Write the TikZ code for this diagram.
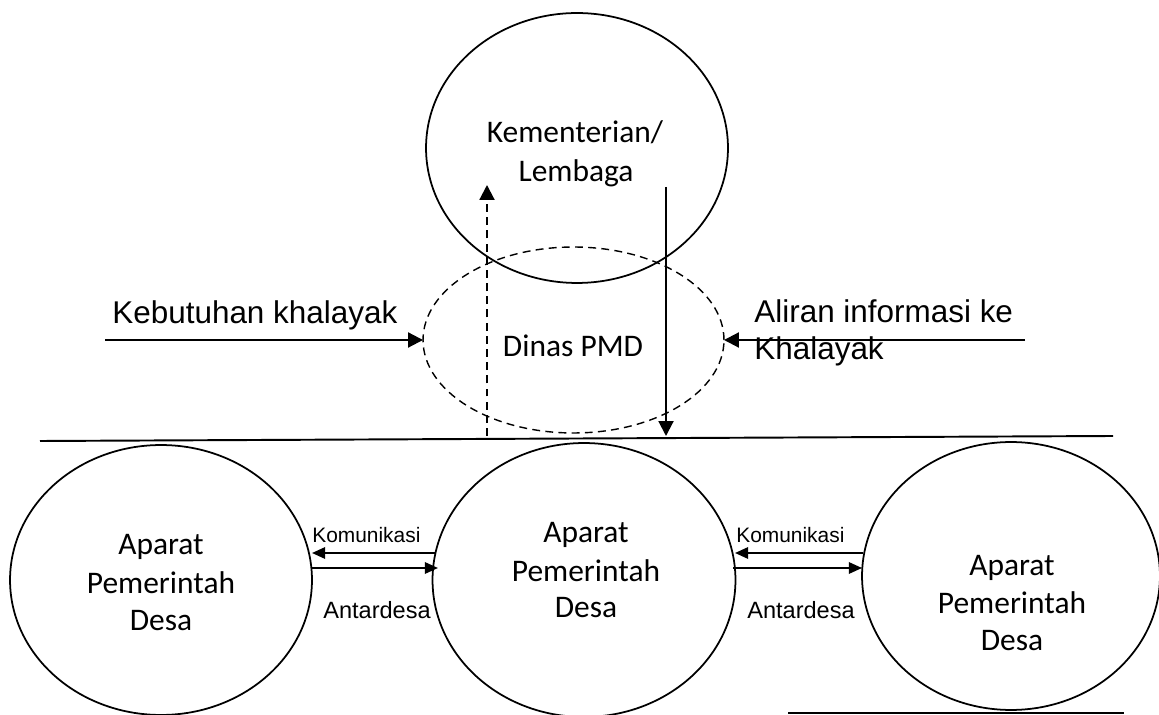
\documentclass[tikz,border=0pt]{standalone}
\usepackage{fontspec}
\newfontfamily\calib{Carlito}
\newfontfamily\arialf{Liberation Sans}
\usetikzlibrary{shapes.geometric,arrows.meta}

\begin{document}
\begin{tikzpicture}[x=0.02cm, y=-0.02cm,
  oval/.style={draw, ellipse, line width=1pt, inner sep=0pt, outer sep=0pt},
  dashoval/.style={oval, line width=0.8pt, dash pattern=on 4.5pt off 3pt},
  carl/.style={font=\calib\fontsize{17.9}{21}\selectfont, inner sep=0pt, anchor=base},
  arl/.style={font=\arialf\fontsize{17.9}{21}\selectfont, inner sep=0pt, anchor=base west},
  kom/.style={font=\arialf\fontsize{11.9}{14}\selectfont, inner sep=0pt, anchor=base west},
  antar/.style={font=\arialf\fontsize{13.4}{16}\selectfont, inner sep=0pt, anchor=base west},
  bigarrow/.style={line width=1.2pt, -{Triangle[length=8.5pt,width=8.5pt]}},
  smallarrow/.style={line width=1.2pt, -{Triangle[length=7.5pt,width=6.5pt]}},
  rule/.style={line width=1.1pt}]
\useasboundingbox (0,0) rectangle (1159,715);

% ovals
\node[oval, minimum width=6.04cm, minimum height=5.40cm] (kl) at (577,148) {};
\node[dashoval, minimum width=6.02cm, minimum height=3.72cm] (dinas) at (573.5,340) {};
\node[oval, minimum width=6.04cm, minimum height=5.40cm] (desa1) at (161,580) {};
\node[oval, minimum width=6.06cm, minimum height=5.48cm] (desa2) at (584,580) {};
\node[oval, minimum width=5.96cm, minimum height=5.36cm] (desa3) at (1011,576) {};

% texts in the ovals
\node[carl] (klA) at (575,143) {Kementerian/};
\node[carl] (klB) at (576,182) {Lembaga};
\node[carl] (dinasT) at (573,357) {Dinas PMD};

\node[carl] (d1a) at (161,555) {Aparat};
\node[carl] (d1b) at (161,594) {Pemerintah};
\node[carl] (d1c) at (161,630) {Desa};
\node[carl] (d2a) at (586,543) {Aparat};
\node[carl] (d2b) at (586,582) {Pemerintah};
\node[carl] (d2c) at (586,618) {Desa};
\node[carl] (d3a) at (1012,576) {Aparat};
\node[carl] (d3b) at (1012,613) {Pemerintah};
\node[carl] (d3c) at (1012,650) {Desa};

% separating rules
\coordinate (r1) at (40,441);
\coordinate (r2) at (1113,436);
\draw[rule] (r1) -- (r2);
\coordinate (r3) at (788,713);
\coordinate (r4) at (1124,713);
\draw[rule] (r3) -- (r4);

% vertical flows
\coordinate (upS) at (487,436);
\coordinate (upE) at (487,185);
\draw[bigarrow, dash pattern=on 4.5pt off 3pt] (upS) -- (upE);
\coordinate (dnS) at (666,187);
\coordinate (dnE) at (666,436);
\draw[bigarrow] (dnS) -- (dnE);

% side flows into Dinas PMD
\coordinate (inL) at (105,340);
\draw[bigarrow] (inL) -- (dinas.west);
\coordinate (inR) at (1025,340);
\draw[bigarrow] (inR) -- (dinas.east);
\node[arl] (keb) at (112,324) {Kebutuhan khalayak};
\node[arl] (alir1) at (754,323) {Aliran informasi ke};
\node[arl] (alir2) at (754,360) {Khalayak};

% communication between villages
\coordinate (a1) at (435,553);
\coordinate (a2) at (312,553);
\coordinate (a3) at (312,568);
\coordinate (a4) at (438,568);
\draw[smallarrow] (a1) -- (a2);
\draw[smallarrow] (a3) -- (a4);
\coordinate (b1) at (863,553);
\coordinate (b2) at (735,553);
\coordinate (b3) at (733,568);
\coordinate (b4) at (862,568);
\draw[smallarrow] (b1) -- (b2);
\draw[smallarrow] (b3) -- (b4);
\node[kom] (k1) at (312,543) {Komunikasi};
\node[kom] (k2) at (736,543) {Komunikasi};
\node[antar] (an1) at (323,619) {Antardesa};
\node[antar] (an2) at (747,619) {Antardesa};
\end{tikzpicture}
\end{document}
